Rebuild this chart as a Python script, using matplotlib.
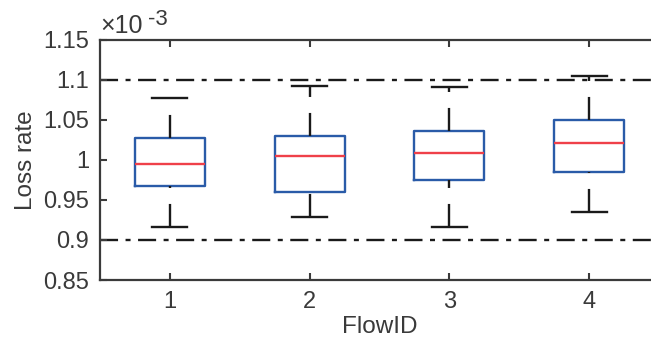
import matplotlib.pyplot as plt
from matplotlib.ticker import FuncFormatter

plt.rcParams['font.family'] = ['Liberation Sans', 'DejaVu Sans']
plt.rcParams['lines.scale_dashes'] = False

# loss rate per flow, in units of 1e-3
flow_ids = [1, 2, 3, 4]
whisker_low = [0.9166, 0.9283, 0.9159, 0.9346]
q1 = [0.9675, 0.9600, 0.9750, 0.9846]
median = [0.9950, 1.0050, 1.0088, 1.0217]
q3 = [1.0271, 1.0300, 1.0367, 1.0504]
whisker_high = [1.0770, 1.0925, 1.0910, 1.1050]
bounds = [0.9, 1.1]

text_color = '#3a3a3a'
box_color = '#2a5ba8'
median_color = '#ef4049'

stats = []
for i in range(len(flow_ids)):
    stats.append({'whislo': whisker_low[i], 'q1': q1[i], 'med': median[i],
                  'q3': q3[i], 'whishi': whisker_high[i], 'fliers': []})

fig = plt.figure(figsize=(6.51, 3.40), dpi=100)
ax = fig.add_axes([100 / 651, 60 / 340, 559 / 651, 240 / 340])

parts = ax.bxp(stats, positions=flow_ids, widths=0.5, capwidths=0.25,
               showfliers=False, patch_artist=False,
               boxprops=dict(color=box_color, linewidth=1.7),
               medianprops=dict(color=median_color, linewidth=1.7),
               whiskerprops=dict(color='#1a1a1a', linewidth=1.7,
                                 linestyle=(0, (16.6, 11.5))),
               capprops=dict(color='#1a1a1a', linewidth=1.7))

# dashes on the lower whiskers start from the cap end
for line in parts['whiskers'][0::2]:
    x, y = line.get_data()
    line.set_data(x[::-1], y[::-1])

for b in bounds:
    ax.axhline(b, color='#1a1a1a', linewidth=1.7,
               linestyle=(0, (13, 5.4, 3.6, 5.4)), zorder=1)

ax.set_xlim(0.5, 4.5)
ax.set_ylim(0.85, 1.15)
ax.set_xticks(flow_ids)
ax.set_xticklabels([str(f) for f in flow_ids])
ax.set_yticks([0.85, 0.9, 0.95, 1.0, 1.05, 1.1, 1.15])
ax.yaxis.set_major_formatter(FuncFormatter(lambda v, p: '%g' % round(v, 2)))

for s in ax.spines.values():
    s.set_color(text_color)
    s.set_linewidth(1.6)
ax.tick_params(direction='in', length=5, width=1.5, colors=text_color,
               labelsize=17, pad=8, top=True, right=True)

ax.set_xlabel('FlowID', fontsize=17.5, color=text_color, labelpad=2)
ax.set_ylabel('Loss rate', fontsize=17.5, color=text_color, labelpad=4)

ax.annotate('×10', xy=(0, 1), xycoords='axes fraction', xytext=(0, 5),
            textcoords='offset points', fontsize=18, color=text_color,
            ha='left', va='baseline')
ax.annotate('-3', xy=(0, 1), xycoords='axes fraction', xytext=(34.5, 11),
            textcoords='offset points', fontsize=16, color=text_color,
            ha='left', va='baseline')

fig.savefig('out.png', dpi=100)
